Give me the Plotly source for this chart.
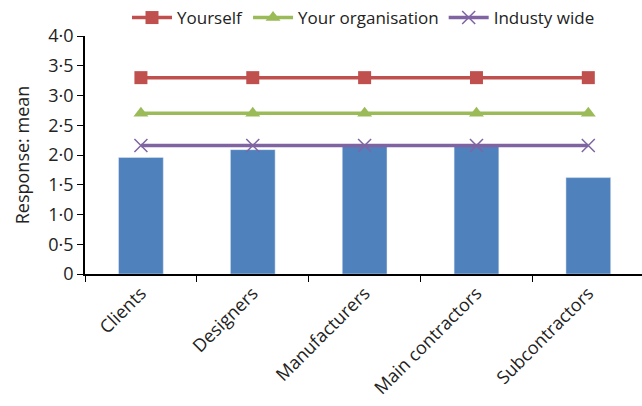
import plotly.graph_objects as go

categories = ["Clients", "Designers", "Manufacturers", "Main contractors", "Subcontractors"]
bar_values = [1.96, 2.09, 2.15, 2.15, 1.62]
yourself = [3.3, 3.3, 3.3, 3.3, 3.3]
organisation = [2.7, 2.7, 2.7, 2.7, 2.7]
industry = [2.16, 2.16, 2.16, 2.16, 2.16]
tick_vals = [0, 0.5, 1.0, 1.5, 2.0, 2.5, 3.0, 3.5, 4.0]
tick_text = ["0", "0·5", "1·0", "1·5", "2·0", "2·5", "3·0", "3·5", "4·0"]

font = "Open Sans, Noto Sans, sans-serif"
txt = "#222222"

fig = go.Figure()
fig.add_trace(go.Bar(x=categories, y=bar_values, marker_color="#4F81BD",
                     showlegend=False, name="Mean"))
fig.add_trace(go.Scatter(x=categories, y=yourself, mode="lines+markers", name="Yourself",
                         line=dict(color="#C0504D", width=3.5),
                         marker=dict(symbol="square", size=13, color="#C0504D")))
fig.add_trace(go.Scatter(x=categories, y=organisation, mode="lines+markers", name="Your organisation",
                         line=dict(color="#9BBB59", width=3.5),
                         marker=dict(symbol="triangle-up", size=13, color="#9BBB59")))
fig.add_trace(go.Scatter(x=categories, y=industry, mode="lines+markers", name="Industy wide",
                         line=dict(color="#8064A2", width=3.5),
                         marker=dict(symbol="x-thin", size=13, line=dict(color="#8064A2", width=1.5))))

fig.update_layout(
    width=642, height=406,
    margin=dict(l=85, r=0, t=35, b=132),
    plot_bgcolor="white", paper_bgcolor="white",
    font=dict(family=font, size=17, color=txt),
    bargap=0.6,
    showlegend=True,
    legend=dict(orientation="h", x=0.5, xanchor="center", y=1.0, yanchor="bottom",
                font=dict(size=17, color=txt), itemwidth=40,
                tracegroupgap=0, bgcolor="rgba(0,0,0,0)"),
    xaxis=dict(range=[-0.5, 4.48], showline=True, linecolor="black", linewidth=1.5, ticks="outside",
               tickson="boundaries", ticklen=6, tickcolor="black", tickangle=-45,
               showgrid=False, tickfont=dict(size=18, color=txt)),
    yaxis=dict(range=[0, 4], tickvals=tick_vals, ticktext=tick_text, showline=True,
               linecolor="black", linewidth=1.5, ticks="outside", ticklen=6, tickcolor="black",
               showgrid=False, zeroline=False, tickfont=dict(size=18, color=txt),
               title=dict(text="Response: mean", font=dict(size=18, color=txt), standoff=14)),
)

fig.write_html("out.html")
